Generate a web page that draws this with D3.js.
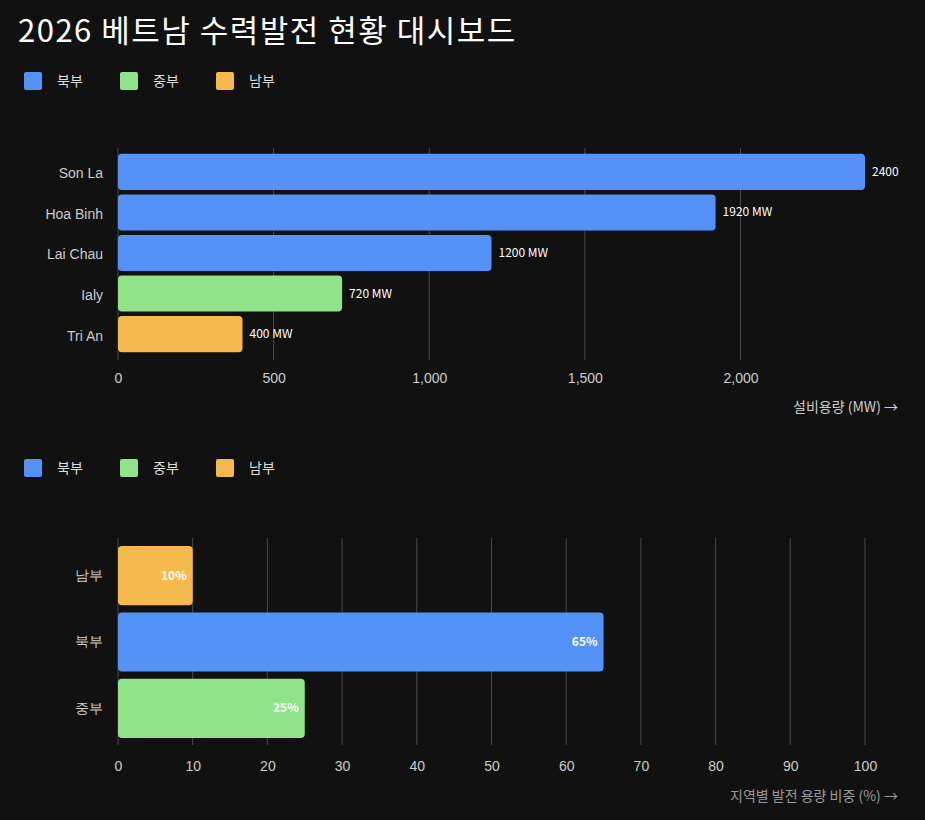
<!DOCTYPE html>
<html><head><meta charset="utf-8">
<script src="https://cdn.jsdelivr.net/npm/d3@7"></script>
<style>
body{margin:0;background:#111111;font-family:"Noto Sans CJK KR","Noto Sans",sans-serif;}
</style></head>
<body><div id="chart"></div>
<script>
const regions = ["북부", "중부", "남부"];
const regionColors = ["#5592f7", "#90e388", "#f6b94c"];
const plants = ["Son La", "Hoa Binh", "Lai Chau", "Ialy", "Tri An"];
const plantMW = [2400, 1920, 1200, 720, 400];
const plantRegion = ["북부", "북부", "북부", "중부", "남부"];
const plantLabels = ["2400", "1920 MW", "1200 MW", "720 MW", "400 MW"];
const shareRegions = ["남부", "북부", "중부"];
const sharePct = [10, 65, 25];

const color = d3.scaleOrdinal().domain(regions).range(regionColors);
const svg = d3.select("#chart").append("svg").attr("width", 925).attr("height", 820);

svg.append("text").attr("x", 18).attr("y", 42).attr("fill", "#fff")
  .style("font-size", "31px").style("letter-spacing", "1.5px").text("2026 베트남 수력발전 현황 대시보드");

function legend(y) {
  const g = svg.append("g").attr("transform", `translate(24,${y})`);
  regions.forEach((r, i) => {
    g.append("rect").attr("x", i * 96).attr("y", -9).attr("width", 18).attr("height", 18)
      .attr("rx", 2).attr("fill", color(r));
    g.append("text").attr("x", i * 96 + 33).attr("y", 5).attr("fill", "#ddd")
      .style("font-size", "14px").text(r);
  });
}

function axisStyle(g) {
  g.select(".domain").remove();
  g.selectAll(".tick line").remove();
  g.selectAll("text").attr("fill", "#ccc").style("font-size", "14px");
}

// chart 1
legend(81);
const x1 = d3.scaleLinear().domain([0, 2400]).range([118, 865]);
const y1 = d3.scaleBand().domain(plants).range([153, 353]).paddingInner(0.11).paddingOuter(0.02);
svg.append("g").selectAll("line").data(x1.ticks(5).filter(d => d <= 2000)).join("line")
  .attr("x1", d => x1(d)).attr("x2", d => x1(d)).attr("y1", 148).attr("y2", 360)
  .attr("stroke", "#4a4a4a");
svg.append("g").selectAll("rect").data(plants).join("rect")
  .attr("x", x1(0)).attr("y", d => y1(d)).attr("height", y1.bandwidth())
  .attr("width", (d, i) => x1(plantMW[i]) - x1(0)).attr("rx", 4)
  .attr("fill", (d, i) => color(plantRegion[i]));
svg.append("g").selectAll("text").data(plants).join("text")
  .attr("x", (d, i) => x1(plantMW[i]) + 7).attr("y", d => y1(d) + y1.bandwidth() / 2 + 4)
  .attr("fill", "#fff").style("font-size", "12px").text((d, i) => plantLabels[i]);
svg.append("g").attr("transform", `translate(${x1(0)},2)`)
  .call(d3.axisLeft(y1).tickSize(0).tickPadding(15)).call(axisStyle);
svg.append("g").attr("transform", "translate(0,363)")
  .call(d3.axisBottom(x1).tickValues([0, 500, 1000, 1500, 2000]).tickSize(0).tickPadding(10)).call(axisStyle);
svg.append("text").attr("x", 898).attr("y", 412).attr("text-anchor", "end").attr("fill", "#ccc")
  .style("font-size", "14px").text("설비용량 (MW) →");

// chart 2
legend(468);
const x2 = d3.scaleLinear().domain([0, 100]).range([118, 865]);
const y2 = d3.scaleBand().domain(shareRegions).range([544, 740]).paddingInner(0.11).paddingOuter(0.03);
svg.append("g").selectAll("line").data(x2.ticks(10)).join("line")
  .attr("x1", d => x2(d)).attr("x2", d => x2(d)).attr("y1", 538).attr("y2", 745)
  .attr("stroke", "#4a4a4a");
svg.append("g").selectAll("rect").data(shareRegions).join("rect")
  .attr("x", x2(0)).attr("y", d => y2(d)).attr("height", y2.bandwidth())
  .attr("width", (d, i) => x2(sharePct[i]) - x2(0)).attr("rx", 4)
  .attr("fill", d => color(d));
svg.append("g").selectAll("text").data(shareRegions).join("text")
  .attr("x", (d, i) => x2(sharePct[i]) - 6).attr("y", d => y2(d) + y2.bandwidth() / 2 + 4)
  .attr("text-anchor", "end").attr("fill", "#fff").style("font-size", "12px").style("font-weight", "bold")
  .text((d, i) => sharePct[i] + "%");
svg.append("g").attr("transform", `translate(${x2(0)},0)`)
  .call(d3.axisLeft(y2).tickSize(0).tickPadding(15)).call(axisStyle);
svg.append("g").attr("transform", "translate(0,751)")
  .call(d3.axisBottom(x2).ticks(10).tickSize(0).tickPadding(10)).call(axisStyle);
svg.append("text").attr("x", 898).attr("y", 801).attr("text-anchor", "end").attr("fill", "#999")
  .style("font-size", "14px").text("지역별 발전 용량 비중 (%) →");
</script></body></html>
